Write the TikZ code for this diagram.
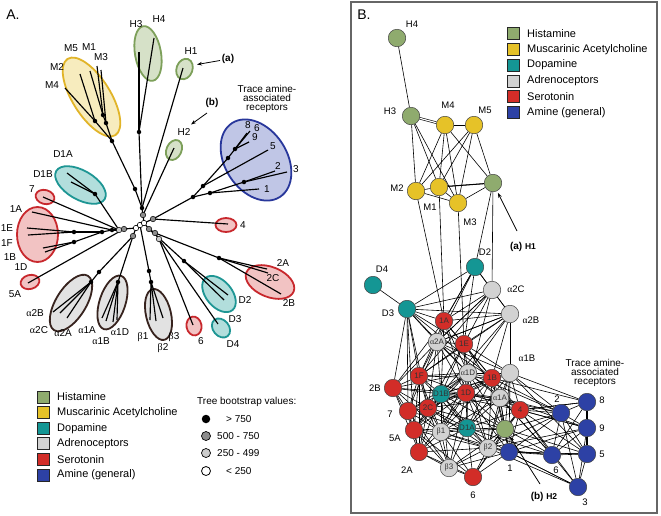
\documentclass[tikz,border=0pt]{standalone}
\usepackage{fontspec}
\setmainfont{Liberation Sans}
\newfontfamily\grkfont{Liberation Serif}
\usetikzlibrary{arrows.meta}
\newcommand\myal{{\grkfont α}}
\newcommand\mybe{{\grkfont β}}
\definecolor{hisC}{RGB}{143,171,110}
\definecolor{musC}{RGB}{230,194,40}
\definecolor{dopC}{RGB}{20,150,148}
\definecolor{adrC}{RGB}{210,210,210}
\definecolor{serC}{RGB}{210,45,40}
\definecolor{amiC}{RGB}{45,65,165}
\definecolor{hisF}{RGB}{214,225,200}
\definecolor{hisE}{RGB}{125,160,90}
\definecolor{musF}{RGB}{247,236,190}
\definecolor{musE}{RGB}{225,180,40}
\definecolor{dopF}{RGB}{178,222,220}
\definecolor{dopE}{RGB}{30,150,148}
\definecolor{adrF}{RGB}{226,226,226}
\definecolor{adrE}{RGB}{55,35,30}
\definecolor{serF}{RGB}{242,195,195}
\definecolor{serE}{RGB}{200,40,45}
\definecolor{amiF}{RGB}{192,198,230}
\definecolor{amiE}{RGB}{40,55,155}
\pgfdeclarelayer{bglayer}
\pgfdeclarelayer{edgelayer}
\pgfsetlayers{bglayer,edgelayer,main}
\begin{document}
\begin{tikzpicture}[x=1pt,y=-1pt,
  lab/.style={font=\fontsize{10}{12}\selectfont, inner sep=0pt},
  blab/.style={font=\fontsize{9.5}{11}\selectfont, inner sep=0pt},
  leg/.style={font=\fontsize{11}{13}\selectfont, anchor=west, inner sep=0pt},
  sq/.style={draw=black!85, line width=0.8pt, minimum size=12pt, inner sep=0pt},
  bn/.style={circle, draw=black!75, line width=0.5pt, minimum size=17.5pt, inner sep=0pt, font=\fontsize{8}{9}\selectfont, text=black!80},
  tl/.style={line width=1.15pt},
  ell/.style={line width=1.8pt},
  db/.style={circle, fill=black, minimum size=4.5pt, inner sep=0pt},
  dg/.style={circle, draw=black, fill=black!45, line width=0.5pt, minimum size=5.5pt, inner sep=0pt},
  dl/.style={circle, draw=black, fill=black!20, line width=0.5pt, minimum size=5.5pt, inner sep=0pt},
  dw/.style={circle, draw=black, fill=white, line width=0.6pt, minimum size=5.5pt, inner sep=0pt},
  ed/.style={line width=0.6pt},
  arr/.style={-{Stealth[length=5pt,width=3.6pt]}, line width=0.8pt},
]
\begin{pgfonlayer}{bglayer}
\fill[white] (0,0) rectangle (661,515);
\end{pgfonlayer}
\useasboundingbox (0,0) rectangle (661,515);

% ================= Panel A =================
\node[font=\fontsize{14}{16}\selectfont, inner sep=0pt] (Atitle) at (13,15) {A.};

\foreach \cx/\cy/\ra/\rb/\rot/\ecol/\fcol in {
 91.5/97/45/19/-58/musE/musF,
 148/53.5/27.7/13/-80/hisE/hisF,
 184.5/69/10.5/8/70/hisE/hisF,
 174/150/10.5/7.5/65/hisE/hisF,
 256/160/44/31/-57/amiE/amiF,
 226/225/10.5/7/0/serE/serF,
 80.5/185/28/14.5/-30/dopE/dopF,
 45/197/9.5/7/-15/serE/serF,
 37.5/234.5/20.5/27.5/0/serE/serF,
 30/282/9.5/7/15/serE/serF,
 71/303/32/15/58/adrE/adrF,
 112.5/302.5/28/13/72/adrE/adrF,
 158.5/314.5/26/12.5/-77/adrE/adrF,
 194/326/9.5/7.5/-80/serE/serF,
 219/294/21/13/-50/dopE/dopF,
 221/328/10.5/8/-50/dopE/dopF,
 270/282/25.5/15/-22/serE/serF}
 \draw[ell, draw=\ecol, fill=\fcol, rotate around={\rot:(\cx,\cy)}] (\cx,\cy) ellipse [x radius=\ra pt, y radius=\rb pt];

\foreach \n/\px/\py in {
 w1/136/228, w2/140/225, w3/144/223, gU/143/215, uB/142/208, gR/153/219,
 gL1/124/229, gL2/119/230, gA/133/236, gD1/149/229, gD2/155/233, gD3/159/239,
 hB/139/132, tH3/139/52, tH4/154/38, m0/135/189, mB/112/141, mI1/95/121,
 mI2/106/123, mI3/103/115, tM4/65/88, tM2/80/74, tM5/90/71, tM1/97/66, tM3/101/70,
 tH1/183/68, tH2/174/148,
 t4/228/224, tA/193/197, tB/203/186, tC/228/158, tD/235/149, tT8/247/133,
 tT6/250/131, tT9/249/142, tT5/268/150, tE/210/193, tF/244/182, tT2/275/171,
 tT3/287/172, tT1/259/189,
 D1d/95/194, tD1A/67/173, tD1B/71/182, t7/43/197, lA/112/230, t1A/32/212,
 lB/102/232, lC/74/232, t1E/27/228, t1F/28/235, lD/74/242, t1B/43/248, t1D/45/252,
 t5A/28/283,
 aD/99/272, aI/91/282, ta2B/53/312, ta2C/60/313, ta2A/67/318, a1d/118/282,
 ta1A/102/318, ta1B/106/321, ta1D/113/322, ta1X/117/320,
 bD1/149/271, bD2/151/282, tb1/150/320, tb2/156/321, tb3/163/318,
 t6/193/325, tD4/218/324, d23/184/261, tD2/228/295, tD3/224/300,
 c2/219/258, t2A/267/269, t2C/268/273, t2B/281/294}
 \coordinate (\n) at (\px,\py);

\foreach \p/\q in {
 w1/w2, w2/w3, w3/gU, gU/uB, w3/gR, w1/gL1, gL1/gL2, w1/gA, w3/gD1, gD1/gD2, gD2/gD3,
 uB/hB, hB/tH3, hB/tH4, uB/m0, m0/mB, mB/mI1, mI1/tM4, mI1/tM2, mB/mI2, mI2/mI3,
 mI3/tM5, mI3/tM1, mI2/tM3, uB/tH1, gU/tH2,
 gR/t4, gR/tA, tA/tB, tB/tC, tC/tD, tD/tT8, tD/tT6, tD/tT9, tB/tT5, tA/tE, tE/tF,
 tF/tT2, tF/tT3, tE/tT1,
 gL2/D1d, D1d/tD1A, D1d/tD1B, gL2/t7, gL2/lA, lA/t1A, lA/lB, lB/lC, lC/t1E, lC/t1F,
 lB/lD, lD/t1B, lD/t1D, gL1/t5A,
 gA/aD, aD/aI, aI/ta2B, aI/ta2C, aI/ta2A, gA/a1d, a1d/ta1A, a1d/ta1B, a1d/ta1D, a1d/ta1X,
 w2/bD1, bD1/bD2, bD2/tb1, bD2/tb2, bD2/tb3,
 gD3/t6, gD3/tD4, gD1/d23, d23/tD2, d23/tD3, gD2/c2, c2/t2A, c2/t2C, c2/t2B}
 \draw[tl] (\p) -- (\q);

\foreach \n in {uB, m0, mB, mI1, mI2, mI3, hB, tA, tB, tC, tD, tE, tF, D1d, lA, lB, lC, lD, aD, aI, a1d, bD1, bD2, d23, c2}
 \node[db] (\n-dot) at (\n) {};
\foreach \n in {gU, gR, gL1, gD1, gD2, gA}
 \node[dg] (\n-dot) at (\n) {};
\foreach \n in {gL2, gD3}
 \node[dl] (\n-dot) at (\n) {};
\foreach \n in {w1, w2, w3}
 \node[dw] (\n-dot) at (\n) {};

\foreach \px/\py/\tx [count=\i] in {
 71/48/M5, 89/47/M1, 101/57/M3, 57/67/M2, 52/85/M4, 136/24/H3, 159/19/H4, 191/51/H1,
 184/132/H2, 248/125/8, 257/128/6, 255/137/9, 273/146/5, 278/166/2, 296/169/3,
 267/189/1, 243/225/4, 63/154/D1A, 43/174/D1B, 32/189/7, 16/209/1A, 7/228/1E,
 7/243/1F, 10/257/1B, 21/267/1D, 15/294/5A, 35/313/\myal2B, 39/330/\myal2C,
 63/333/\myal2A, 87/330/\myal1A, 101/341/\myal1B, 120/332/\myal1D, 143/337/\mybe1,
 163/348/\mybe2, 174/337/\mybe3, 201/341/6, 245/300/D2, 235/319/D3, 233/344/D4,
 283/263/2A, 273/278/2C, 289/303/2B}
 \node[lab] (la\i) at (\px,\py) {\tx};

\node[lab, align=center, font=\fontsize{10}{9.2}\selectfont] (taarA) at (267,99) {Trace amine-\\associated\\receptors};
\node[lab, font=\fontsize{10}{12}\selectfont\bfseries] (laA) at (228,59) {(a)};
\node[lab, font=\fontsize{10}{12}\selectfont\bfseries] (laB) at (212,103) {(b)};
\coordinate (arA1) at (220,60.5);
\coordinate (arA2) at (197,64.5);
\coordinate (arB1) at (207,113);
\coordinate (arB2) at (191,124.5);
\draw[arr] (arA1) -- (arA2);
\draw[arr] (arB1) -- (arB2);

% legend A
\foreach \cc/\tx [count=\i] in {hisC/Histamine, musC/Muscarinic Acetylcholine, dopC/Dopamine, adrC/Adrenoceptors, serC/Serotonin, amiC/Amine (general)} {
 \node[sq, fill=\cc] (sqA\i) at (43,{397+(\i-1)*15.6}) {};
 \node[leg] (lgA\i) at (57,{397+(\i-1)*15.6}) {\tx};
}
\node[lab, anchor=west] (bsT) at (197,402) {Tree bootstrap values:};
\node[db, minimum size=8.5pt] (bs1) at (206,419) {};
\node[dg, minimum size=9pt, line width=0.7pt] (bs2) at (206,436) {};
\node[dl, minimum size=9pt, line width=0.7pt] (bs3) at (206,453) {};
\node[dw, minimum size=9pt, line width=0.8pt] (bs4) at (206,471) {};
\node[lab, anchor=west] (bsl1) at (226,419) {> 750};
\node[lab, anchor=west] (bsl2) at (217,436) {500 - 750};
\node[lab, anchor=west] (bsl3) at (217,453) {250 - 499};
\node[lab, anchor=west] (bsl4) at (226,471) {< 250};

% ================= Panel B =================
\draw[black!60, line width=1.6pt] (351,2) rectangle (657,513);
\node[font=\fontsize{14}{16}\selectfont, inner sep=0pt] (Btitle) at (364,15) {B.};

\foreach \cc/\tx [count=\i] in {hisC/Histamine, musC/Muscarinic Acetylcholine, dopC/Dopamine, adrC/Adrenoceptors, serC/Serotonin, amiC/Amine (general)} {
 \node[sq, fill=\cc] (sqB\i) at (513,{33.5+(\i-1)*15.8}) {};
 \node[leg] (lgB\i) at (527,{33.5+(\i-1)*15.8}) {\tx};
}

\foreach \n/\px/\py/\cc/\tx in {
 H4/397/38/hisC/{}, H3/411/116/hisC/{}, M4/445/125/musC/{}, M5/474/125/musC/{},
 M2/416/191/musC/{}, M1/439/187/musC/{}, M3/458/203/musC/{}, H1/493/183/hisC/{},
 D2/475/267/dopC/{}, D4/373/285/dopC/{}, a2C/492/290/adrC/{}, D3/407/309/dopC/{},
 a2B/510/314/adrC/{}, s1A/444/321/serC/1A, a2A/437/342/adrC/\myal2A,
 s1E/464/344/serC/1E, a1B/510/373/adrC/{}, s1F/419/376/serC/1F,
 a1D/468/373/adrC/\myal1D, s1B/492/378/serC/1B, s2B/393/388/serC/{},
 D1B/441/394/dopC/D1B, s1D/466/393/serC/1D, a1A/500/398/adrC/\myal1A,
 s2C/428/408/serC/2C, s7/408/411/serC/{}, s4/520/410/serC/4, s5A/414/430/serC/{},
 b1/441/432/adrC/\mybe1, D1A/467/428/dopC/D1A, H2/505/429/hisC/{},
 s2A/419/452/serC/{}, b2/488/448/adrC/\mybe2, bl1/509/452/amiC/{},
 b3/449/468/adrC/\mybe3, s6/473/477/serC/{}, bl2/561/413/amiC/{},
 bl8/587/402/amiC/{}, bl9/587/428/amiC/{}, bl6/552/455/amiC/{},
 bl5/587/454/amiC/{}, bl3/578/487/amiC/{}}
 \node[bn, fill=\cc] (\n) at (\px,\py) {\tx};

\def\botlist{D2/475/267, a2C/492/290, D3/407/309, a2B/510/314, s1A/444/321,
 a2A/437/342, s1E/464/344, a1B/510/373, s1F/419/376, a1D/468/373, s1B/492/378,
 s2B/393/388, D1B/441/394, s1D/466/393, a1A/500/398, s2C/428/408, s7/408/411,
 s4/520/410, s5A/414/430, b1/441/432, D1A/467/428, H2/505/429, s2A/419/452,
 b2/488/448, bl1/509/452, b3/449/468, s6/473/477, bl2/561/413, bl8/587/402,
 bl9/587/428, bl6/552/455, bl5/587/454, bl3/578/487}

\begin{pgfonlayer}{edgelayer}
\foreach \p/\q in {H4/H3, H3/M2, H3/M1, H3/M3, M4/M5, M4/M2, M4/M1, M4/M3, M4/H1,
 M5/M2, M5/M1, M5/M3, M5/H1, M2/M1, M2/M3, M1/M3, M1/H1, M3/H1, M2/s1A, M1/s1A,
 M3/s1E, H1/D2, H1/a2C, D4/D3,
 D3/a2B, D3/a2C, D3/s1B, D3/a1D, D2/s1A, D2/a2A, a2C/s1F, a2B/s1F, a2B/D1B,
 a2C/s1D, a1B/bl8, a1B/bl5, s4/bl8, s4/bl9, H2/bl5, bl1/bl5, s1B/bl8, a1A/bl9,
 s2B/s1A, D3/s7, D3/s2C, D3/s5A, a2C/a2A, a2B/a2A, bl1/bl3, b2/bl3,
 a1D/bl2, s1D/bl2, a1A/bl6, D1A/bl6, b2/bl9, s4/bl3}
 \draw[ed] (\p) -- (\q);
\draw[ed, double, double distance=1.2pt] (H3) -- (M4);
\draw[ed, line width=1.1pt] (bl8) -- (bl9) -- (bl5);
\draw[ed, line width=1pt] (M1) -- (H1);
\foreach \na/\xa/\ya [count=\i] in \botlist {
 \foreach \nb/\xb/\yb [count=\j] in \botlist {
  \ifnum\j>\i
   \pgfmathtruncatemacro\ok{veclen(\xb-\xa,\yb-\ya)<82}
   \ifnum\ok=1 \draw[ed] (\na) -- (\nb); \fi
  \fi
 }
}
\end{pgfonlayer}

\foreach \px/\py/\tx [count=\i] in {
 412/24/H4, 390/111/H3, 448/105/M4, 485/110/M5, 397/188/M2, 430/207/M1, 470/222/M3,
 485/252/D2, 382/269/D4, 516/289/\myal2C, 388/313/D3, 531/320/\myal2B,
 527/358/\myal1B, 375/388/2B, 390/414/7, 395/438/5A, 407/470/2A, 510/468/1,
 473/495/6, 557/399/2, 602/400/8, 602/428/9, 602/454/5, 556/470/6, 585/502/3}
 \node[blab] (lb\i) at (\px,\py) {\tx};

\node[lab, align=center, font=\fontsize{10}{9.2}\selectfont] (taarB) at (595,373) {Trace amine-\\associated\\receptors};
\node[inner sep=0pt, font=\bfseries] (lbH1) at (523,247) {\fontsize{10}{12}\selectfont (a) {\fontsize{8.5}{10}\selectfont H1}};
\node[inner sep=0pt, font=\bfseries] (lbH2) at (544,497) {\fontsize{10}{12}\selectfont (b) {\fontsize{8.5}{10}\selectfont H2}};
\coordinate (arC1) at (517,231);
\coordinate (arD1) at (540,484);
\draw[arr, shorten >=2pt] (arC1) -- (H1);
\draw[arr] (arD1) -- (H2);
\end{tikzpicture}
\end{document}
